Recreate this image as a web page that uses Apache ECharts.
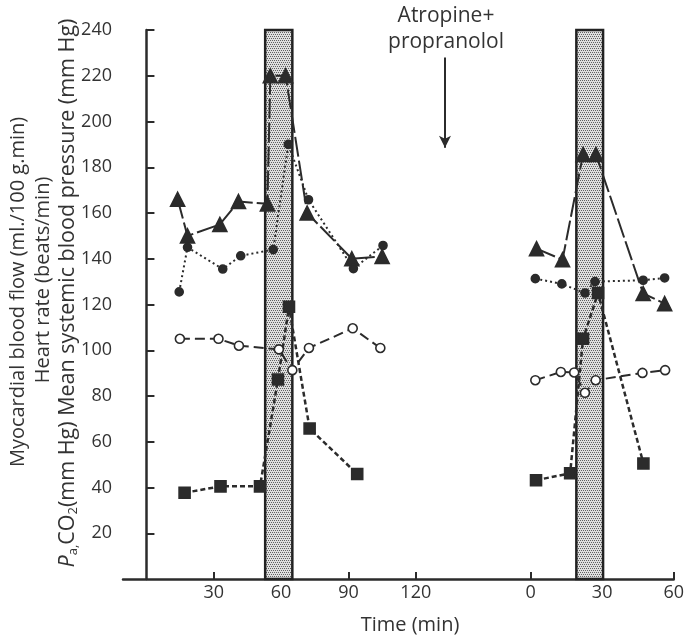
<!DOCTYPE html>
<html><head><meta charset="utf-8">
<script src="https://cdn.jsdelivr.net/npm/echarts@6/dist/echarts.min.js"></script>
<style>html,body{margin:0;padding:0;background:#fff}#c{width:687px;height:640px}</style>
</head><body><div id="c"></div>
<script>
// ---- tick labels ----
const yTicks = [20, 40, 60, 80, 100, 120, 140, 160, 180, 200, 220, 240];
const xTicksA = [30, 60, 90, 120];      // control period (min)
const xTicksB = [0, 30, 60];            // after atropine + propranolol (min)

// ---- control period (axis A) ----
const triA_t = [13.9, 18.3, 32.7, 41, 53.9, 55.2, 62, 71.6, 91.5, 105];
const triA_v = [166, 150, 155, 165, 164, 220, 220, 160, 140, 141];
const dotA_t = [14.6, 18.3, 34, 42, 56.5, 63.2, 72.2, 92.2, 105.4];
const dotA_v = [125.5, 145, 135.5, 141.3, 144, 190, 165.8, 135.7, 145.8];
const openA_t = [14.9, 32.1, 41.2, 59, 65, 72.4, 91.9, 104.2];
const openA_v = [105, 105, 102, 100.4, 91.3, 101, 109.6, 101];
const sqA_t = [17, 33, 50.6, 58.6, 63.5, 72.7, 93.9];
const sqA_v = [37.7, 40.5, 40.5, 87.2, 119, 65.8, 45.9];

// ---- after blockade (axis B) ----
const triB_t = [2.5, 13.4, 22, 27.4, 47.2, 56.2];
const triB_v = [144.4, 139.6, 185.6, 185.6, 124.8, 120.4];
const dotB_t = [2, 13.1, 22.8, 27, 47.2, 56.2];
const dotB_v = [131.3, 129, 125, 130, 130.6, 131.6];
const openB_t = [2, 12.7, 18.3, 22.8, 27.3, 46.9, 56.4];
const openB_v = [86.9, 90.5, 90.3, 81.4, 86.9, 90.1, 91.3];
const sqB_t = [2.3, 16.6, 22, 28.3, 47.3];
const sqB_v = [43.2, 46.2, 105, 125, 50.5];

// shaded periods [start, end] in min
const bandA = [52.9, 65.0];
const bandB = [19.2, 30.4];
// arrow: time, from value, to value
const arrowA = [133, 228, 188.5];

const zip = (t, v) => t.map((x, i) => [x, v[i]]);

// stipple pattern
const pc = document.createElement('canvas'); pc.width = 4; pc.height = 4;
const g = pc.getContext('2d');
g.fillStyle = '#dedede'; g.fillRect(0, 0, 4, 4);
g.fillStyle = '#606060';
[[0,0],[2,0],[1,2],[3,2]].forEach(p => g.fillRect(p[0], p[1], 1, 1));
const stipple = { image: pc, repeat: 'repeat' };

const INK = '#2b2b2b';
const TXT = '#333';
const FONT = '"Open Sans"';

function mk(name, data, axis, sym, size, lineType, extra) {
  return Object.assign({
    name, type: 'line', xAxisIndex: axis, data,
    symbol: sym, symbolSize: size,
    itemStyle: { color: INK, borderColor: INK, borderWidth: 1.6 },
    lineStyle: { color: INK, width: 2, type: lineType },
    z: 3, animation: false, clip: false
  }, extra || {});
}
const bandArea = (b) => ({
  silent: true, z: 1,
  itemStyle: { color: stipple, borderColor: '#222', borderWidth: 2.5 },
  data: [[{ xAxis: b[0], yAxis: 0 }, { xAxis: b[1], yAxis: 240 }]]
});

const chart = echarts.init(document.getElementById('c'), null, { renderer: 'canvas' });
chart.setOption({
  backgroundColor: '#fff',
  animation: false,
  grid: { left: 123, right: 12, top: 30, bottom: 61 },
  xAxis: [
    { type: 'value', position: 'bottom', min: -10.44, max: 234.9,
      axisLine: { onZero: false, lineStyle: { color: INK, width: 2.5 } },
      axisTick: { inside: true, length: 7, customValues: xTicksA, lineStyle: { color: INK, width: 2 } },
      axisLabel: { customValues: xTicksA, color: TXT, fontSize: 18, fontFamily: FONT, margin: 5 },
      splitLine: { show: false } },
    { type: 'value', position: 'bottom', min: -170.8, max: 60,
      axisLine: { show: false, onZero: false },
      axisTick: { inside: true, length: 7, customValues: xTicksB, lineStyle: { color: INK, width: 2 } },
      axisLabel: { customValues: xTicksB, color: TXT, fontSize: 18, fontFamily: FONT, margin: 5 },
      splitLine: { show: false } }
  ],
  yAxis: { type: 'value', min: 0, max: 240, interval: 20,
    axisLine: { show: true, lineStyle: { color: INK, width: 2.5 } },
    axisTick: { inside: true, length: 8, lineStyle: { color: INK, width: 2 } },
    axisLabel: { color: TXT, fontSize: 18, fontFamily: FONT, margin: 11, showMinLabel: false,
      formatter: v => yTicks.indexOf(v) >= 0 ? String(v) : '' },
    splitLine: { show: false } },
  series: [
    mk('triA', zip(triA_t, triA_v), 0, 'triangle', 14, [20, 4], {
      markArea: bandArea(bandA),
      markLine: { silent: true, symbol: ['none', 'arrow'], symbolSize: [9, 12],
        lineStyle: { color: INK, width: 2, type: 'solid' }, label: { show: false },
        data: [[{ coord: [arrowA[0], arrowA[1]] }, { coord: [arrowA[0], arrowA[2]] }]] } }),
    mk('dotA', zip(dotA_t, dotA_v), 0, 'circle', 8, [2, 3]),
    mk('openA', zip(openA_t, openA_v), 0, 'circle', 9, [10, 5], { itemStyle: { color: '#fff', borderColor: INK, borderWidth: 1.6 } }),
    mk('sqA', zip(sqA_t, sqA_v), 0, 'rect', 11, [5, 3], { lineStyle: { color: INK, width: 2.5, type: [5, 3] } }),
    mk('triB', zip(triB_t, triB_v), 1, 'triangle', 14, [20, 4], { markArea: bandArea(bandB) }),
    mk('dotB', zip(dotB_t, dotB_v), 1, 'circle', 8, [2, 3]),
    mk('openB', zip(openB_t, openB_v), 1, 'circle', 9, [10, 5], { itemStyle: { color: '#fff', borderColor: INK, borderWidth: 1.6 } }),
    mk('sqB', zip(sqB_t, sqB_v), 1, 'rect', 11, [5, 3], { lineStyle: { color: INK, width: 2.5, type: [5, 3] } })
  ],
  graphic: [
    { type: 'text', x: 446, y: 16, style: { text: 'Atropine+', fill: TXT, font: '21px ' + FONT, align: 'center', verticalAlign: 'middle' } },
    { type: 'text', x: 446, y: 42, style: { text: 'propranolol', fill: TXT, font: '21px ' + FONT, align: 'center', verticalAlign: 'middle' } },
    { type: 'text', x: 410, y: 625, style: { text: 'Time (min)', fill: TXT, font: '20px ' + FONT, align: 'center', verticalAlign: 'middle' } },
    { type: 'text', x: 18, y: 292, rotation: Math.PI / 2,
      style: { text: 'Myocardial blood flow (ml./100 g.min)', fill: TXT, font: '20px ' + FONT, align: 'center', verticalAlign: 'middle' } },
    { type: 'text', x: 43, y: 280, rotation: Math.PI / 2,
      style: { text: 'Heart rate (beats/min)', fill: TXT, font: '20px ' + FONT, align: 'center', verticalAlign: 'middle' } },
    { type: 'text', x: 68, y: 293, rotation: Math.PI / 2,
      style: { text: '{i|P}{s|a,}CO{s|2}(mm Hg) Mean systemic blood pressure (mm Hg)', fill: TXT, font: '21.5px ' + FONT,
        align: 'center', verticalAlign: 'middle',
        rich: { i: { fontStyle: 'italic', fontSize: 21.5, fontFamily: FONT, fill: TXT },
                s: { fontSize: 13, fontFamily: FONT, fill: TXT, padding: [10, 0, 0, 0] } } } }
  ]
});
</script></body></html>
